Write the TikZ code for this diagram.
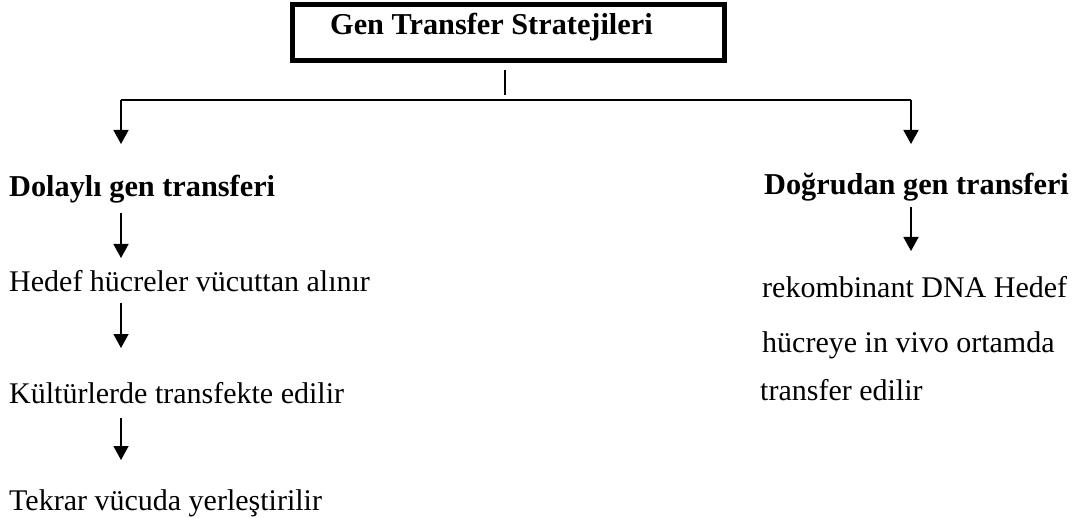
\documentclass[tikz,border=0pt]{standalone}
\usepackage{fontspec}
\setmainfont{Liberation Serif}
\usetikzlibrary{arrows.meta}
\begin{document}
\begin{tikzpicture}[x=1pt,y=-1pt,
  txt/.style={inner sep=0pt,anchor=base west,font=\fontsize{30}{36}\selectfont},
  btxt/.style={txt,font=\fontsize{30.3}{36}\selectfont\bfseries},
  line/.style={line width=1.6pt},
  arr/.style={line width=1.6pt,-{Triangle[width=15pt,length=14pt]}},
  frame/.style={draw,line width=5pt,inner sep=0pt,minimum width=432pt,minimum height=56pt}]
\useasboundingbox (0,0) rectangle (1075,518);
% title box
\node[frame] (box) at (508.5,32.5) {};
\node[btxt] (title) at (330,35) {Gen Transfer Stratejileri};
% stem under the box
\coordinate (stemtop) at (505,70);
\coordinate (stembot) at (505,95);
\draw[line] (stemtop) -- (stembot);
% branch line
\coordinate (bl) at (121,100);
\coordinate (br) at (911,100);
\coordinate (tl) at (121,144);
\coordinate (tr) at (911,144);
\draw[line] (br) -- (bl);
\draw[arr] (bl) -- (tl);
\draw[arr] (br) -- (tr);
% left column
\node[btxt] (dol) at (9,197) {Dolaylı gen transferi};
\node[txt] (hed) at (9,292) {Hedef hücreler vücuttan alınır};
\node[txt] (kul) at (9,403) {Kültürlerde transfekte edilir};
\node[txt] (tek) at (9,510) {Tekrar vücuda yerleştirilir};
\coordinate (a1s) at (121,213);
\coordinate (a1e) at (121,258);
\coordinate (a2s) at (121,303);
\coordinate (a2e) at (121,348);
\coordinate (a3s) at (121,418);
\coordinate (a3e) at (121,460);
\draw[arr] (a1s) -- (a1e);
\draw[arr] (a2s) -- (a2e);
\draw[arr] (a3s) -- (a3e);
% right column
\node[btxt] (dog) at (764,195) {Doğrudan gen transferi};
\node[txt] (rek) at (762,298) {rekombinant DNA Hedef};
\node[txt] (huc) at (762,352) {hücreye in vivo ortamda};
\node[txt] (tra) at (760,400) {transfer edilir};
\coordinate (a4s) at (911,207);
\coordinate (a4e) at (911,251);
\draw[arr] (a4s) -- (a4e);
\end{tikzpicture}
\end{document}
